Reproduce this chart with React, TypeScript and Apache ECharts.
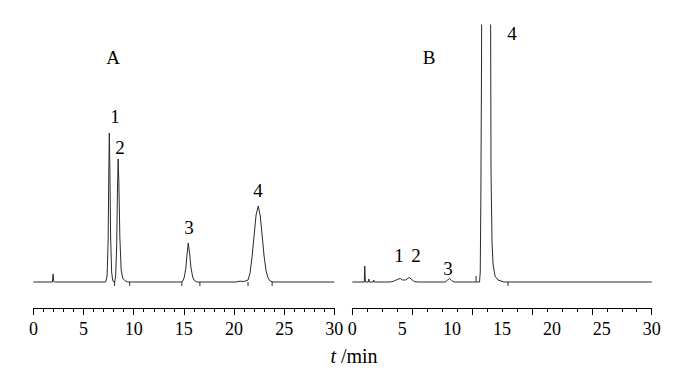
import React, { useEffect, useRef } from "react";
import * as echarts from "echarts";

// Chromatogram A: [time (min), signal]
const traceA: [number, number][] = [
  [0, 0], [1.9, 0], [1.96, 8], [2.02, 1], [2.1, 0],
  [7.2, 0], [7.35, 6], [7.45, 40], [7.52, 110], [7.57, 149], [7.62, 115], [7.7, 45], [7.8, 10], [7.9, 2], [8.0, 0],
  [8.1, 0], [8.2, 6], [8.3, 35], [8.38, 90], [8.45, 123], [8.52, 100], [8.62, 45], [8.75, 12], [8.9, 4], [9.1, 1.5], [9.4, 0],
  [14.8, 0], [14.9, 1], [15.05, 5], [15.2, 14], [15.3, 26], [15.44, 39], [15.58, 28], [15.7, 15], [15.88, 5], [16.05, 1.5], [16.3, 0],
  [20.2, 0], [20.6, 0.8], [21.0, 0.5], [21.4, 2], [21.6, 9], [21.8, 25], [22.0, 46], [22.2, 67], [22.42, 76], [22.62, 66], [22.82, 45], [23.0, 26], [23.2, 11], [23.4, 4], [23.6, 1], [23.9, 0],
  [30, 0],
];

// Chromatogram B: [time (min), signal]; peak 4 runs off the top of the panel
const traceB: [number, number][] = [
  [0, 0], [1.2, 0], [1.25, 16], [1.31, 0], [1.6, 0], [1.65, 3], [1.7, 0], [2.1, 0], [2.15, 2], [2.2, 0],
  [3.8, 0], [4.2, 1], [4.5, 2.5], [4.8, 3.5], [5.05, 2], [5.35, 2], [5.7, 4.5], [5.9, 3], [6.2, 0.5], [6.6, 0],
  [9.3, 0], [9.55, 2], [9.75, 3.5], [9.95, 1.5], [10.2, 0],
  [12.75, 0], [12.82, 10], [12.88, 80], [12.95, 220], [13.0, 500], [13.3, 1500], [13.75, 1000], [13.85, 300], [13.9, 110], [14.0, 40], [14.1, 18], [14.3, 6], [14.6, 2], [15.2, 0],
  [30, 0],
];

// integration event marks on each baseline: [time, mark length (signed)]
const marksA: [number, number][] = [[8.1, -4], [9.6, -4], [14.8, -4], [16.6, -4], [21.4, -4], [23.8, -4]];
const marksB: [number, number][] = [[12.4, 6], [15.6, -4]];

const axisLabelsA = [0, 5, 10, 15, 20, 25, 30];
const axisLabelsB = [0, 5, 10, 15, 20, 25, 30];

const peakNames = ["1", "2", "3", "4"];

const buildMarks = (m: [number, number][]) => {
  const out: any[] = [];
  m.forEach(([t, len]) => {
    out.push([t, 0], [t, len], [t, "-"]);
  });
  return out;
};

const FONT = "'Liberation Serif', 'Times New Roman', serif";
const INK = "#000";
const LINE = "#2a2a2a";

export default function App() {
  const ref = useRef<HTMLDivElement>(null);
  useEffect(() => {
    if (!ref.current) return;
    const chart = echarts.init(ref.current, null, { renderer: "svg" });
    const yAx = (gridIndex: number) => ({
      type: "value",
      gridIndex,
      min: -26,
      max: 257,
      show: false,
    });
    const txt = (s: string, x: number, y: number) => ({
      type: "text",
      x,
      y,
      style: {
        text: s,
        fill: INK,
        font: `19px ${FONT}`,
        align: "center",
        verticalAlign: "middle",
      },
    });
    const labelAxisStyle = {
      fontFamily: FONT,
      fontSize: 18,
      color: INK,
      margin: 12,
    };
    chart.setOption({
      animation: false,
      backgroundColor: "#fff",
      grid: [
        { left: 33.4, top: 25, width: 300.9, height: 283 },
        { left: 352.3, top: 25, width: 299.4, height: 283 },
      ],
      xAxis: [
        {
          type: "value",
          gridIndex: 0,
          min: 0,
          max: 30,
          interval: 5,
          axisLine: { show: true, onZero: false, lineStyle: { color: INK, width: 1 } },
          axisTick: { show: true, inside: false, length: 7, lineStyle: { color: INK } },
          minorTick: { show: true, splitNumber: 5, length: 4, lineStyle: { color: INK } },
          splitLine: { show: false },
          axisLabel: {
            ...labelAxisStyle,
            customValues: axisLabelsA,
            showMinLabel: true,
            showMaxLabel: true,
          },
        },
        {
          type: "value",
          gridIndex: 1,
          min: 0,
          max: 30,
          interval: 6,
          axisLine: { show: true, onZero: false, lineStyle: { color: INK, width: 1 } },
          axisTick: { show: true, inside: false, length: 7, lineStyle: { color: INK } },
          minorTick: { show: true, splitNumber: 4, length: 4, lineStyle: { color: INK } },
          splitLine: { show: false },
          axisLabel: { show: false },
        },
        {
          type: "value",
          gridIndex: 1,
          position: "bottom",
          min: 0,
          max: 30,
          interval: 5,
          axisLine: { show: false, onZero: false },
          axisTick: { show: false },
          splitLine: { show: false },
          axisLabel: {
            ...labelAxisStyle,
            customValues: axisLabelsB,
            showMinLabel: true,
            showMaxLabel: true,
          },
        },
      ],
      yAxis: [yAx(0), yAx(1)],
      series: [
        {
          type: "line",
          xAxisIndex: 0,
          yAxisIndex: 0,
          data: traceA,
          showSymbol: false,
          clip: true,
          lineStyle: { color: LINE, width: 1 },
        },
        {
          type: "line",
          xAxisIndex: 0,
          yAxisIndex: 0,
          data: buildMarks(marksA),
          showSymbol: false,
          connectNulls: false,
          lineStyle: { color: LINE, width: 1 },
        },
        {
          type: "line",
          xAxisIndex: 1,
          yAxisIndex: 1,
          data: traceB,
          showSymbol: false,
          clip: true,
          lineStyle: { color: LINE, width: 1 },
        },
        {
          type: "line",
          xAxisIndex: 1,
          yAxisIndex: 1,
          data: buildMarks(marksB),
          showSymbol: false,
          connectNulls: false,
          lineStyle: { color: LINE, width: 1 },
        },
      ],
      graphic: [
        txt("A", 113, 57),
        txt(peakNames[0], 115, 116),
        txt(peakNames[1], 120, 147),
        txt(peakNames[2], 189, 227),
        txt(peakNames[3], 258, 190),
        txt("B", 429, 57),
        txt(peakNames[3], 512, 33),
        txt(peakNames[0], 399, 255),
        txt(peakNames[1], 416, 255),
        txt(peakNames[2], 448, 268),
        {
          type: "text",
          x: 354,
          y: 356,
          style: {
            text: "{i|t} /min",
            rich: {
              i: { font: `italic 20px ${FONT}`, fill: INK },
            },
            fill: INK,
            font: `20px ${FONT}`,
            align: "center",
            verticalAlign: "middle",
          },
        },
      ],
    });
    return () => chart.dispose();
  }, []);
  return (
    <div
      ref={ref}
      style={{ position: "fixed", left: 0, top: 0, width: 698, height: 378, background: "#fff" }}
    />
  );
}
